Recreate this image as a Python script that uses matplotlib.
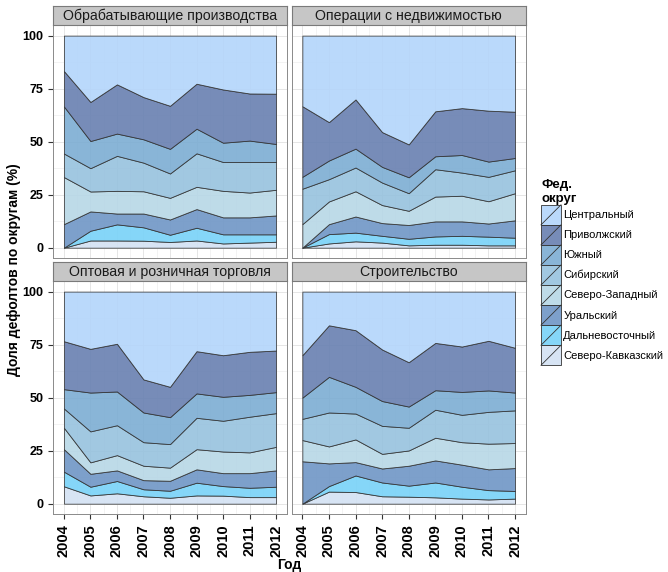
import numpy as np
import matplotlib.pyplot as plt
from matplotlib.patches import Rectangle
from matplotlib.lines import Line2D
from matplotlib.legend_handler import HandlerBase
from matplotlib.ticker import MultipleLocator

plt.rcParams['font.family'] = ['Liberation Sans', 'DejaVu Sans']

years = [2004, 2005, 2006, 2007, 2008, 2009, 2010, 2011, 2012]

# stacking order: bottom -> top
regions = ['Северо-Кавказский', 'Дальневосточный', 'Уральский', 'Северо-Западный',
           'Сибирский', 'Южный', 'Приволжский', 'Центральный']
colors = ['#d3e2f3', '#78d2f8', '#6f96c6', '#b7d7e6',
          '#97c2de', '#7cadd3', '#6880b1', '#b3d5fb']

sectors = ['Обрабатывающие производства', 'Операции с недвижимостью',
           'Оптовая и розничная торговля', 'Строительство']

# shares (%) per region, rows in the same order as `regions`
manufacturing = [
    [0, 3.4, 3.4, 3.3, 2.7, 3.4, 2.0, 2.4, 2.8],
    [0, 4.6, 7.6, 6.3, 3.4, 6.0, 4.3, 3.9, 3.5],
    [11.1, 9.1, 5.1, 6.5, 7.2, 8.8, 8.0, 8.0, 8.9],
    [22.2, 9.4, 10.7, 10.5, 10.2, 10.5, 12.5, 11.7, 12.1],
    [11.1, 11.0, 16.5, 13.5, 11.5, 15.8, 13.6, 14.4, 13.1],
    [22.2, 12.8, 10.5, 11.0, 11.6, 11.6, 9.1, 10.1, 8.5],
    [16.7, 18.4, 23.2, 19.9, 20.3, 21.2, 25.1, 22.2, 23.7],
    [16.7, 31.3, 23.0, 29.0, 33.1, 22.7, 25.4, 27.3, 27.4],
]
real_estate = [
    [0, 2.0, 3.0, 2.4, 1.1, 1.4, 1.4, 1.1, 1.1],
    [0, 4.4, 4.1, 3.2, 3.1, 3.9, 4.2, 4.1, 3.6],
    [0, 4.7, 7.6, 6.0, 6.5, 7.1, 6.8, 6.2, 8.2],
    [11.1, 10.7, 11.9, 8.5, 6.7, 11.7, 12.1, 10.5, 12.8],
    [16.7, 10.5, 11.2, 10.6, 8.3, 12.9, 10.9, 11.5, 10.8],
    [5.6, 8.8, 8.9, 7.4, 7.5, 6.1, 8.3, 7.2, 5.8],
    [33.3, 18.1, 23.2, 16.4, 15.5, 21.2, 22.1, 24.0, 21.8],
    [33.3, 40.8, 30.1, 45.5, 51.3, 35.7, 34.2, 35.4, 35.9],
]
trade = [
    [8.2, 3.9, 4.9, 3.5, 2.8, 3.9, 3.8, 3.1, 3.1],
    [6.9, 4.1, 5.8, 3.3, 3.3, 6.0, 4.5, 4.4, 4.9],
    [10.6, 6.1, 5.0, 4.3, 4.7, 6.3, 6.1, 6.9, 7.7],
    [10.1, 5.4, 7.2, 6.8, 6.2, 9.5, 10.2, 9.8, 11.1],
    [9.1, 14.6, 14.1, 11.1, 11.1, 14.8, 14.5, 16.8, 15.9],
    [9.1, 18.3, 15.9, 14.0, 12.7, 11.5, 11.3, 10.3, 9.9],
    [22.6, 20.6, 22.5, 15.6, 14.3, 19.9, 19.6, 20.3, 19.6],
    [23.4, 27.0, 24.6, 41.4, 44.9, 28.1, 30.0, 28.4, 27.8],
]
construction = [
    [0, 5.7, 5.5, 3.5, 3.3, 3.0, 2.4, 2.0, 2.4],
    [0, 2.6, 7.8, 6.5, 5.2, 7.0, 5.6, 4.4, 3.6],
    [20.0, 10.7, 6.3, 6.6, 9.4, 10.4, 10.4, 9.8, 10.8],
    [10.0, 8.0, 10.7, 6.9, 7.2, 10.7, 10.6, 12.1, 11.8],
    [10.0, 16.0, 12.2, 13.2, 10.7, 13.2, 12.9, 15.0, 15.4],
    [10.0, 16.8, 12.6, 11.7, 10.0, 9.2, 10.8, 10.1, 8.4],
    [20.0, 24.3, 26.7, 24.3, 20.9, 22.3, 21.4, 23.4, 21.1],
    [30.0, 15.9, 18.2, 27.3, 33.3, 24.2, 25.9, 23.2, 26.5],
]
panel_data = [manufacturing, real_estate, trade, construction]

W, H = 668, 572
fig = plt.figure(figsize=(W / 100, H / 100), dpi=100)

# panel boxes in pixels
lefts = [53.3, 291.7]
rights = [286.7, 525.7]
tops = [25, 281]
bottoms = [258.3, 514.3]
strip_h = 19

for i, (name, data) in enumerate(zip(sectors, panel_data)):
    r, c = divmod(i, 2)
    l, rr, t, b = lefts[c], rights[c], tops[r], bottoms[r]
    ax = fig.add_axes([l / W, 1 - b / H, (rr - l) / W, (b - t) / H])
    ax.stackplot(years, *data, colors=colors, alpha=0.9,
                 edgecolor='#333333', linewidth=0.6, zorder=2)
    ax.set_xlim(2003.6, 2012.4)
    ax.set_ylim(-5, 105)
    ax.xaxis.set_major_locator(MultipleLocator(1))
    ax.xaxis.set_minor_locator(MultipleLocator(0.5))
    ax.yaxis.set_major_locator(MultipleLocator(25))
    ax.yaxis.set_minor_locator(MultipleLocator(12.5))
    ax.grid(True, which='major', color='#e2e2e2', linewidth=0.6, zorder=0)
    ax.grid(True, which='minor', color='#efefef', linewidth=0.5, zorder=0)
    ax.set_axisbelow(True)
    for s in ax.spines.values():
        s.set_color('#8a8a8a')
        s.set_linewidth(0.7)
    ax.tick_params(which='minor', length=0)
    ax.tick_params(which='major', length=3.5, width=0.8, color='#333333')
    ax.tick_params(axis='y', labelsize=9)
    ax.tick_params(axis='x', labelsize=10.5, labelrotation=90)
    for lab in ax.get_xticklabels() + ax.get_yticklabels():
        lab.set_fontweight('bold')
    if c == 1:
        ax.tick_params(axis='y', left=False, labelleft=False)
    if r == 0:
        ax.tick_params(axis='x', bottom=False, labelbottom=False)

    # facet strip
    sax = fig.add_axes([l / W, 1 - t / H, (rr - l) / W, strip_h / H])
    sax.set_xticks([])
    sax.set_yticks([])
    sax.set_facecolor('#c6c6c6')
    for s in sax.spines.values():
        s.set_color('#7a7a7a')
        s.set_linewidth(0.8)
    sax.text(0.5, 0.48, name, ha='center', va='center', fontsize=10.2,
             color='#1a1a1a', transform=sax.transAxes)

fig.text(14 / W, 1 - 270 / H, 'Доля дефолтов по округам (%)', rotation=90,
         ha='center', va='center', fontsize=10, fontweight='bold')
fig.text(289.5 / W, 1 - 565 / H, 'Год', ha='center', va='center',
         fontsize=10, fontweight='bold')


class AreaKey(HandlerBase):
    def create_artists(self, legend, orig_handle, xdescent, ydescent,
                       width, height, fontsize, trans):
        x0, y0 = -xdescent, -ydescent
        rect = Rectangle((x0, y0), width, height,
                         facecolor=orig_handle.get_facecolor(),
                         edgecolor='#333333', linewidth=0.6, transform=trans)
        diag = Line2D([x0, x0 + width], [y0, y0 + height], color='#333333',
                      linewidth=0.6, transform=trans)
        return [rect, diag]


handles = [Rectangle((0, 0), 1, 1, facecolor=col, alpha=0.9)
           for col in colors[::-1]]
leg = fig.legend(handles, regions[::-1], loc='upper left',
                 bbox_to_anchor=(541 / W, 1 - 179 / H), frameon=False,
                 handler_map={Rectangle: AreaKey()}, fontsize=8,
                 handlelength=1.8, handleheight=2.4, labelspacing=0,
                 handletextpad=0.2, borderpad=0, borderaxespad=0,
                 title='Фед.\nокруг', alignment='left',
                 title_fontproperties={'weight': 'bold', 'size': 9.5})

fig.savefig('out.png', dpi=100)
